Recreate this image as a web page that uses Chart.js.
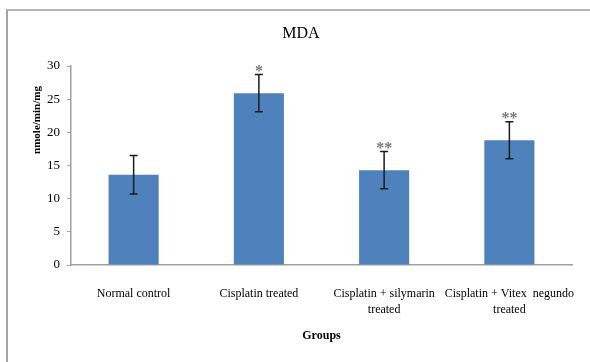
<!DOCTYPE html>
<html>
<head>
<meta charset="utf-8">
<title>MDA</title>
<script src="https://cdn.jsdelivr.net/npm/chart.js@4.4.1/dist/chart.umd.min.js"></script>
<style>
  html, body { margin: 0; padding: 0; background: #fff; overflow: hidden; }
  #wrap { position: relative; width: 590px; height: 362px; overflow: hidden; }
  #frame {
    position: absolute; left: 6px; top: 9px; width: 584px; height: 353px;
    border-top: 2px solid #b4b4b4; border-left: 2px solid #a4a4a4;
    box-sizing: border-box; pointer-events: none;
  }
  canvas { display: block; }
</style>
</head>
<body>
<div id="wrap">
  <canvas id="chart" width="590" height="362"></canvas>
  <div id="frame"></div>
</div>
<script>
// Groups on the x axis
const categories = [
  'Normal control',
  'Cisplatin treated',
  ['Cisplatin + silymarin', 'treated'],
  ['Cisplatin + Vitex  negundo', 'treated']
];
// Mean MDA level per group and its error
const mdaMeans = [13.6, 25.9, 14.3, 18.8];
const mdaErrors = [2.9, 2.8, 2.8, 2.8];
// Significance marks shown above the error bars
const significance = ['', '*', '**', '**'];
// Value axis range
const yMin = 0;
const yMax = 30;
const yStep = 5;

const SERIF = '"Liberation Serif", "Times New Roman", serif';

// Error bars with caps, plus the significance stars above them
const errorBarPlugin = {
  id: 'errorBars',
  afterDatasetsDraw(chart) {
    const ctx = chart.ctx;
    const yScale = chart.scales.y;
    const meta = chart.getDatasetMeta(0);
    ctx.save();
    meta.data.forEach((bar, i) => {
      const x = bar.x;
      const yTop = yScale.getPixelForValue(mdaMeans[i] + mdaErrors[i]);
      const yBot = yScale.getPixelForValue(mdaMeans[i] - mdaErrors[i]);
      ctx.strokeStyle = '#1c1c1c';
      ctx.lineWidth = 1.5;
      ctx.beginPath();
      ctx.moveTo(x, yTop); ctx.lineTo(x, yBot);
      ctx.moveTo(x - 4, yTop); ctx.lineTo(x + 4, yTop);
      ctx.moveTo(x - 4, yBot); ctx.lineTo(x + 4, yBot);
      ctx.stroke();
      if (significance[i]) {
        ctx.fillStyle = '#7a7a7a';
        ctx.font = 'bold 16px ' + SERIF;
        ctx.textAlign = 'center';
        ctx.textBaseline = 'alphabetic';
        ctx.fillText(significance[i], x, yTop + 1);
      }
    });
    ctx.restore();
  }
};

// Chart title and the rotated value-axis title
const titlesPlugin = {
  id: 'titles',
  afterDraw(chart) {
    const ctx = chart.ctx;
    ctx.save();
    ctx.fillStyle = '#000';
    ctx.textAlign = 'center';
    ctx.textBaseline = 'middle';
    ctx.font = '16px ' + SERIF;
    ctx.fillText('MDA', chart.width / 2 + 6, 34);
    ctx.translate(37, 120);
    ctx.rotate(-Math.PI / 2);
    ctx.font = 'bold 11px ' + SERIF;
    ctx.fillText('nmole/min/mg', 0, 0);
    ctx.restore();
  }
};

new Chart(document.getElementById('chart'), {
  type: 'bar',
  data: {
    labels: categories,
    datasets: [{
      label: 'MDA',
      data: mdaMeans,
      backgroundColor: '#4f81bd',
      borderWidth: 0,
      barPercentage: 0.4,
      categoryPercentage: 1.0
    }]
  },
  options: {
    responsive: false,
    devicePixelRatio: 1,
    animation: false,
    layout: { padding: { top: 66, left: 10, right: 18, bottom: 15 } },
    plugins: {
      legend: { display: false },
      tooltip: { enabled: false },
      title: { display: false }
    },
    scales: {
      x: {
        grid: { display: false },
        border: { display: true, color: '#a0a0a0', width: 1.5 },
        ticks: {
          color: '#000',
          font: { family: SERIF, size: 12, lineHeight: 1.3 },
          padding: 13,
          maxRotation: 0,
          autoSkip: false
        },
        title: {
          display: true,
          text: 'Groups',
          color: '#000',
          font: { family: SERIF, size: 12, weight: 'bold' },
          padding: { top: 4, bottom: 4 }
        },
        afterFit(scale) { scale.height = 82; }
      },
      y: {
        min: yMin,
        max: yMax,
        grid: {
          display: true,
          drawOnChartArea: false,
          drawTicks: true,
          tickLength: 4,
          color: '#a0a0a0'
        },
        border: { display: true, color: '#a0a0a0', width: 1.5 },
        ticks: {
          stepSize: yStep,
          color: '#000',
          font: { family: SERIF, size: 13 },
          padding: 7
        },
        afterFit(scale) { scale.width = 61; }
      }
    }
  },
  plugins: [errorBarPlugin, titlesPlugin]
});
</script>
</body>
</html>
